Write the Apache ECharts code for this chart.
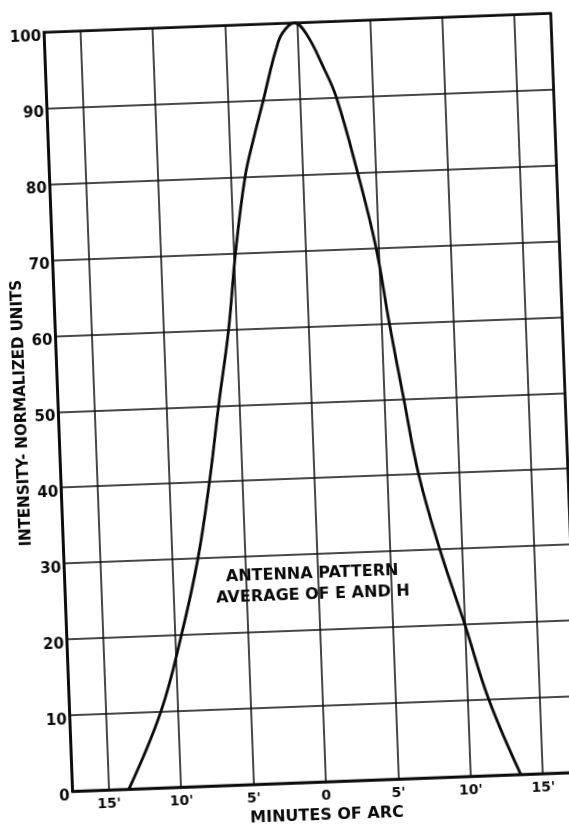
<!DOCTYPE html>
<html>
<head>
<meta charset="utf-8">
<script src="https://cdn.jsdelivr.net/npm/echarts@6/dist/echarts.min.js"></script>
<style>
  html, body { margin: 0; padding: 0; background: #fff; overflow: hidden; }
  #chart { width: 569px; height: 825px; transform: rotate(-2.15deg); transform-origin: 50% 50%; }
</style>
</head>
<body>
<div id="chart"></div>
<script>
// Antenna pattern: normalized intensity against offset in minutes of arc
const xTickValues = [-15, -10, -5, 0, 5, 10, 15];
const xTickLabels = ["15'", "10'", "5'", "0", "5'", "10'", "15'"];
const yTickLabels = ['0', '10', '20', '30', '40', '50', '60', '70', '80', '90', '100'];

const arcMinutes = [-13.6, -11.2, -9.58, -8.24, -7.25, -6.42, -5.53, -4.86, -4.0, -3.31, -2.54,
                    -2.06, -1.55, -1.06, -0.2, 0.62, 1.69, 2.5, 3.77, 4.85, 5.57, 6.37, 7.2,
                    8.47, 10.0, 11.46, 13.47];
const intensity  = [0, 10, 20, 30, 40, 50, 60, 70, 80, 85, 90,
                    93.3, 96.5, 98.7, 100, 98.4, 94.0, 90, 80, 70, 60, 50, 40,
                    30, 20, 10, 0];

const noteLines = ['ANTENNA PATTERN', 'AVERAGE OF E AND H'];
const notePos = [-0.4, 26.0];

const FONT = 'DejaVu Sans';
const ink = '#0a0a0a';

const chart = echarts.init(document.getElementById('chart'), null, { renderer: 'canvas' });

const curve = arcMinutes.map((x, i) => [x, intensity[i]]);

chart.setOption({
  animation: false,
  backgroundColor: '#fff',
  grid: {
    left: 58.4, right: 3.6, top: 23.5, bottom: 42,
    outerBoundsMode: 'none',
    containLabel: false,
    show: true, borderColor: ink, borderWidth: 2.5, backgroundColor: 'transparent'
  },
  xAxis: {
    type: 'value',
    min: -17.5, max: 17.5, splitNumber: 7,
    name: 'MINUTES OF ARC',
    nameLocation: 'middle',
    nameGap: 26,
    nameTextStyle: { fontFamily: FONT, fontWeight: 'bold', fontSize: 16, color: ink },
    axisLine: { show: true, onZero: false, lineStyle: { color: ink, width: 2.5 } },
    axisTick: { show: false },
    splitLine: { show: true, lineStyle: { color: ink, width: 1.5 } },
    axisLabel: {
      margin: 7,
      fontFamily: FONT, fontWeight: 'bold', fontSize: 14, color: ink,
      showMinLabel: false, showMaxLabel: false,
      formatter: v => {
        const i = xTickValues.indexOf(Math.round(v * 100) / 100);
        return i >= 0 ? xTickLabels[i] : '';
      }
    }
  },
  yAxis: {
    type: 'value',
    min: 0, max: 100, interval: 10,
    name: 'INTENSITY- NORMALIZED UNITS',
    nameLocation: 'middle',
    nameGap: 29,
    nameMoveOverlap: false,
    nameRotate: 90,
    nameTextStyle: { fontFamily: FONT, fontWeight: 'bold', fontSize: 15, color: ink },
    axisLine: { show: true, onZero: false, lineStyle: { color: ink, width: 2.5 } },
    axisTick: { show: false },
    splitLine: { show: true, lineStyle: { color: ink, width: 1.5 } },
    axisLabel: {
      margin: 3,
      verticalAlign: 'top',
      lineHeight: 10,
      fontFamily: FONT, fontWeight: 'bold', fontSize: 15, color: ink,
      formatter: v => yTickLabels[Math.round(v / 10)]
    }
  },
  series: [{
    type: 'line',
    data: curve,
    smooth: 0.4,
    showSymbol: false,
    lineStyle: { color: ink, width: 2.8 }
  }]
});

// Caption inside the plot, anchored at a data position
const p = chart.convertToPixel({ gridIndex: 0 }, notePos);
chart.setOption({
  graphic: [{
    type: 'text',
    x: p[0], y: p[1],
    style: {
      text: noteLines.join('\n'),
      font: 'bold 16px "' + FONT + '"',
      fill: ink,
      align: 'center',
      verticalAlign: 'middle',
      lineHeight: 21
    }
  }]
});
</script>
</body>
</html>
